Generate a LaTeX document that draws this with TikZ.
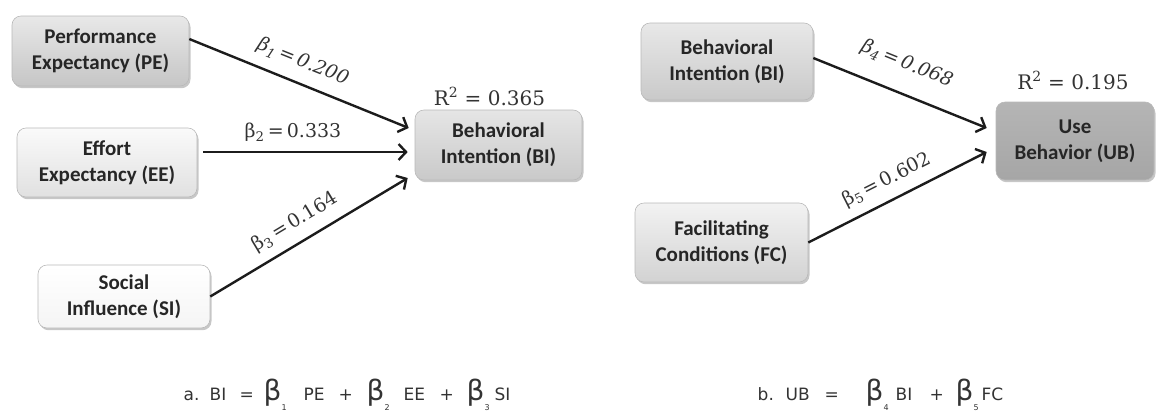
\documentclass[tikz,border=0pt]{standalone}
\usepackage{fontspec}
\setmainfont{Carlito}
\newfontfamily\boxfont{Carlito}
\newfontfamily\labfont{DejaVu Serif}
\newfontfamily\eqfont{DejaVu Sans}
\usetikzlibrary{arrows.meta,shadows}
\definecolor{txt}{HTML}{262626}
\definecolor{edgec}{HTML}{1C1C1C}
\definecolor{labc}{HTML}{333333}
\newcommand\eqat[2]{\rlap{\hspace*{#1pt}#2}}
\newcommand\bigb[1]{{\fontsize{28}{28}\selectfont β}\raisebox{-10pt}{\fontsize{8}{8}\selectfont #1}}
\tikzset{
  cbox/.style={draw=gray!55, line width=0.6pt, rounded corners=9pt, align=center,
    font=\boxfont\bfseries\fontsize{21}{26}\selectfont, text=txt, inner sep=0pt,
    drop shadow={shadow xshift=1.5pt, shadow yshift=-2.2pt, fill=black, opacity=0.22}},
  conn/.style={draw=edgec, line width=2.4pt, -{Straight Barb[length=7.5pt,width=16pt]}},
  coef/.style={font=\labfont\fontsize{19}{19}\selectfont, text=labc, inner sep=0pt},
  rsq/.style={font=\labfont\fontsize{20}{20}\selectfont, text=labc, inner sep=0pt, anchor=base},
  eq/.style={font=\eqfont\fontsize{17}{17}\selectfont, text=black!80, inner sep=0pt, anchor=base west},
}
\begin{document}
\begin{tikzpicture}[x=1pt,y=-1pt]
\useasboundingbox (0,0) rectangle (1159,413);
% left model
\node[cbox, minimum width=177pt, minimum height=70pt, top color=gray!18, bottom color=gray!45] (PE) at (100.5,51) {Performance\\Expectancy (PE)};
\node[cbox, minimum width=180pt, minimum height=69pt, top color=gray!4, bottom color=gray!24] (EE) at (107,162.5) {Effort\\Expectancy (EE)};
\node[cbox, minimum width=172pt, minimum height=63pt, top color=white, bottom color=gray!8] (SI) at (124,296.5) {Social\\Influence (SI)};
\node[cbox, minimum width=167pt, minimum height=70pt, top color=gray!20, bottom color=gray!42] (BI) at (498.5,145) {Behavioral\\Intention (BI)};
\node[rsq] (r1) at (489.5,105) {R\textsuperscript{2} = 0.365};
\draw[conn] ([yshift=12pt]PE.east) -- ([xshift=-6pt,yshift=17pt]BI.west);
\draw[conn] ([xshift=6pt,yshift=10.5pt]EE.east) -- ([xshift=-7pt,yshift=-7pt]BI.west);
\draw[conn] (SI.east) -- ([xshift=-7pt,yshift=-33pt]BI.west);
\node[coef, rotate=-22] (b1) at (303,62) {\itshape β\textsubscript{1}\,=\,0.200};
\node[coef] (b2) at (293,132) {β\textsubscript{2}\,=\,0.333};
\node[coef, rotate=31] (b3) at (295,222) {β\textsubscript{3}\,=\,0.164};
% right model
\node[cbox, minimum width=172pt, minimum height=77pt, top color=gray!18, bottom color=gray!42] (BI2) at (727,61.5) {Behavioral\\Intention (BI)};
\node[cbox, minimum width=173pt, minimum height=79pt, top color=gray!10, bottom color=gray!35] (FC) at (721.5,242.5) {Facilitating\\Conditions (FC)};
\node[cbox, minimum width=158pt, minimum height=78pt, top color=gray!58, bottom color=gray!70] (UB) at (1075,141) {Use\\Behavior (UB)};
\node[rsq] (r2) at (1073,89) {R\textsuperscript{2} = 0.195};
\draw[conn] ([yshift=3.5pt]BI2.east) -- ([xshift=-9pt,yshift=13pt]UB.west);
\draw[conn] (FC.east) -- ([xshift=-9pt,yshift=-11pt]UB.west);
\node[coef, rotate=-22] (b4) at (907,64) {\itshape β\textsubscript{4}\,=\,0.068};
\node[coef, rotate=26.7] (b5) at (887,180) {β\textsubscript{5}\,=\,0.602};
% equations
\node[eq] (eqa) at (183,400) {\eqat{0}{a.}\eqat{26}{BI}\eqat{56}{=}\eqat{80}{\bigb{1}}\eqat{120}{PE}\eqat{155}{+}\eqat{183}{\bigb{2}}\eqat{220}{EE}\eqat{256}{+}\eqat{283}{\bigb{3}}\eqat{311}{SI}};
\node[eq] (eqb) at (757,400) {\eqat{0}{b.}\eqat{28}{UB}\eqat{67}{=}\eqat{108}{\bigb{4}}\eqat{138}{BI}\eqat{172}{+}\eqat{198}{\bigb{5}}\eqat{224}{FC}};
\end{tikzpicture}
\end{document}
